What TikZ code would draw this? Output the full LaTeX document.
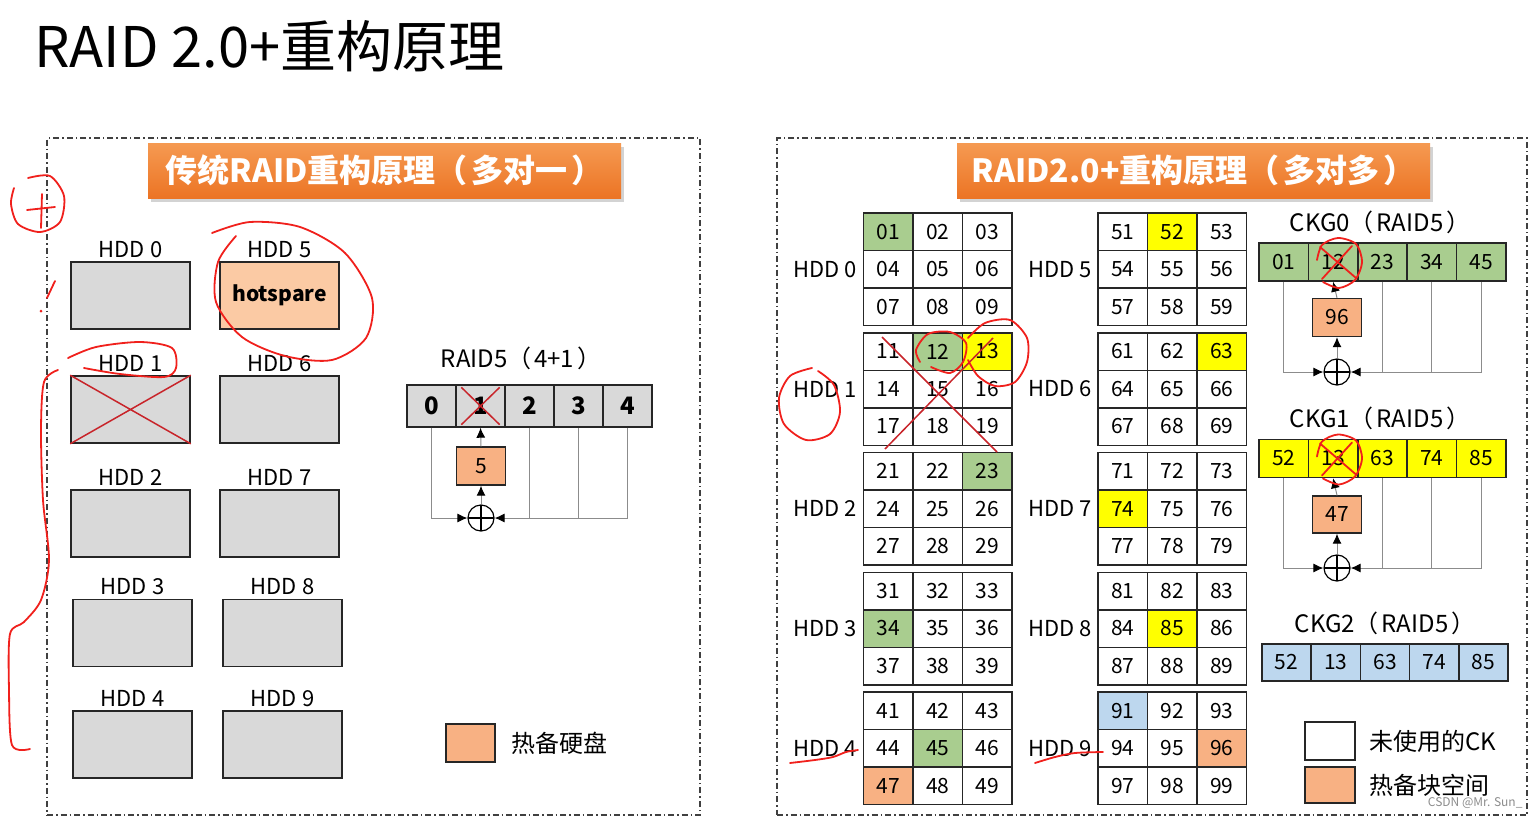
\documentclass[tikz,border=0pt]{standalone}
\usepackage{fontspec}
\setmainfont{Noto Sans CJK SC}
\usetikzlibrary{arrows.meta, positioning, shadows}

\definecolor{diskgray}{HTML}{D9D9D9}
\definecolor{sparelight}{HTML}{FBCAA4}
\definecolor{spareor}{HTML}{F8B183}
\definecolor{ckgreen}{HTML}{A9CD8F}
\definecolor{ckyellow}{HTML}{FFFF00}
\definecolor{ckblue}{HTML}{BDD7EE}
\definecolor{hdrtop}{HTML}{F59A52}
\definecolor{hdrbot}{HTML}{EC7424}
\definecolor{xred}{HTML}{C8242A}
\definecolor{penred}{HTML}{F0201C}
\definecolor{wiregray}{HTML}{8C8C8C}
\definecolor{edge}{HTML}{262626}

\newcommand{\txtsize}[1]{\fontsize{#1}{#1}\selectfont}
\newcommand{\lp}{（\hspace{0.12em}}
\newcommand{\rp}{\hspace{0.12em}）}

\begin{document}
\begin{tikzpicture}[
    x=1pt, y=-1pt,
    frame/.style={draw=black!75, line width=1.3pt, dash pattern=on 6pt off 3pt on 1.5pt off 3pt},
    header/.style={top color=hdrtop, bottom color=hdrbot, minimum width=473pt, minimum height=55pt,
        text=white, font=\txtsize{32}\bfseries, drop shadow={opacity=0.35, shadow xshift=3pt, shadow yshift=-4pt}},
    lbl/.style={font=\txtsize{22}},
    disk/.style={draw=edge, line width=1.6pt, fill=diskgray, minimum width=119pt, minimum height=67pt},
    stripcell/.style={draw=edge, line width=1.4pt, fill=diskgray, minimum width=49pt, minimum height=42pt, font=\txtsize{24}\bfseries},
    ckcell/.style={draw=edge, line width=1.5pt, fill=white, minimum width=49.5pt, minimum height=37.5pt, font=\txtsize{21}},
    sparebox/.style={draw=edge, line width=1.4pt, fill=spareor, minimum width=49pt, minimum height=38pt, font=\txtsize{21}},
    xor/.style={circle, draw=black, line width=1.2pt, minimum size=26pt, inner sep=0pt,
        path picture={\draw[line width=1.2pt] (path picture bounding box.north) -- (path picture bounding box.south)
            (path picture bounding box.west) -- (path picture bounding box.east);}},
    wire/.style={draw=wiregray, line width=1pt},
    tip/.style={-{Latex[color=black, length=10pt, width=9pt]}},
    xmark/.style={draw=xred, line width=1.5pt},
    pen/.style={draw=penred, line width=1.8pt, line cap=round, line join=round}
]
    \useasboundingbox (0,0) rectangle (1540,819);

    % Title
    \node[anchor=west, font=\txtsize{56}] (title) at (31,46) {RAID 2.0+重构原理};

    % Panels
    \node[frame, minimum width=653pt, minimum height=677pt] (leftpanel) at (373.5,476.5) {};
    \node[frame, minimum width=750pt, minimum height=677pt] (rightpanel) at (1152,476.5) {};
    \node[header] (lefthdr) at (384.5,170.5) {传统RAID重构原理\lp 多对一\rp};
    \node[header] (righthdr) at (1193.5,170.5) {RAID2.0+重构原理\lp 多对多\rp};

    % Traditional RAID: disks
    \foreach \i/\px/\py in {0/130.5/295.5, 1/130.5/409.5, 2/130.5/523.5, 3/132.5/633, 4/132.5/744.5,
                            6/279.5/409.5, 7/279.5/523.5, 8/282.5/633, 9/282.5/744.5}
        \node[disk, label={[lbl]above:HDD \i}] (hdd\i) at (\px,\py) {};
    \node[disk, fill=sparelight, font=\txtsize{21}\bfseries, label={[lbl]above:HDD 5}] (hdd5) at (279.5,295.5) {hotspare};
    \draw[xmark] (hdd1.north west) -- (hdd1.south east) (hdd1.south west) -- (hdd1.north east);

    % Traditional RAID: RAID5 (4+1)
    \node[font=\txtsize{24}] (raidlbl) at (521,358) {RAID5\lp 4+1\rp};
    \foreach \k in {0,...,4}
        \node[stripcell] (r\k) at (431.5+49*\k,406) {\k};
    \draw[xmark] ([shift={(6,3)}]r1.north west) -- ([shift={(-6,-3)}]r1.south east)
                 ([shift={(6,-3)}]r1.south west) -- ([shift={(-6,3)}]r1.north east);
    \node[sparebox] (p5) at (481,466) {5};
    \node[xor] (x0) at (481,518) {};
    \draw[wire, tip] (r0.south) |- (x0.west);
    \draw[wire] (r2.south) -- (r2.south |- x0.east);
    \draw[wire] (r3.south) -- (r3.south |- x0.east);
    \draw[wire, tip] (r4.south) |- (x0.east);
    \draw[wire, tip] (x0.north) -- (p5.south);
    \draw[wire, tip] (p5.north) -- (r1.south);

    % Legend (left)
    \node[sparebox] (legdisk) at (470.5,743) {};
    \node[font=\txtsize{24}, right=12pt of legdisk] (legdisktxt) {热备硬盘};

    % RAID 2.0+: disks split into chunks
    \foreach \g in {0,...,9} {
        \pgfmathsetmacro\gx{\g<5 ? 863.5 : 1098}
        \pgfmathtruncatemacro\gr{mod(\g,5)}
        \node[lbl, anchor=east] (hddr\g) at ({\gx-3},{213+119.75*\gr+56.25}) {HDD \g};
        \foreach \r in {0,1,2} {
            \foreach \c in {0,1,2} {
                \pgfmathtruncatemacro\n{10*\g+3*\r+\c+1}
                \ifnum\n<10 \edef\nn{0\n}\else\edef\nn{\n}\fi
                \node[ckcell] (ck\nn) at ({\gx+24.75+49.5*\c},{213+119.75*\gr+18.75+37.5*\r}) {\nn};
            }
        }
    }
    % chunks in use
    \foreach \n/\col in {01/ckgreen, 12/ckgreen, 23/ckgreen, 34/ckgreen, 45/ckgreen,
                         13/ckyellow, 52/ckyellow, 63/ckyellow, 74/ckyellow, 85/ckyellow,
                         47/spareor, 96/spareor, 91/ckblue}
        \node[ckcell, fill=\col] at (ck\n) {\n};
    \draw[xmark] (882,337) -- (997,452) (885,449) -- (993,338);

    % CKG0
    \node[font=\txtsize{24}] (ckg0lbl) at (1380,222) {CKG0\lp RAID5\rp};
    \foreach \k/\v in {0/01, 1/12, 2/23, 3/34, 4/45}
        \node[ckcell, fill=ckgreen, minimum width=49.4pt, minimum height=38pt] (a\k) at (1283.7+49.4*\k,262) {\v};
    \node[sparebox] (p96) at (1337,317.5) {96};
    \node[xor] (x1) at (1337,372) {};
    \draw[wire, tip] (a0.south) |- (x1.west);
    \draw[wire] (a2.south) -- (a2.south |- x1.east);
    \draw[wire] (a3.south) -- (a3.south |- x1.east);
    \draw[wire, tip] (a4.south) |- (x1.east);
    \draw[wire, tip] (x1.north) -- (p96.south);
    \draw[wire, tip] (p96.north) -- (a1.south);

    % CKG1
    \node[font=\txtsize{24}] (ckg1lbl) at (1380,418) {CKG1\lp RAID5\rp};
    \foreach \k/\v in {0/52, 1/13, 2/63, 3/74, 4/85}
        \node[ckcell, fill=ckyellow, minimum width=49.4pt, minimum height=38pt] (b\k) at (1283.7+49.4*\k,458.5) {\v};
    \node[sparebox, minimum height=37pt] (p47) at (1337,514.5) {47};
    \node[xor] (x2) at (1337,568) {};
    \draw[wire, tip] (b0.south) |- (x2.west);
    \draw[wire] (b2.south) -- (b2.south |- x2.east);
    \draw[wire] (b3.south) -- (b3.south |- x2.east);
    \draw[wire, tip] (b4.south) |- (x2.east);
    \draw[wire, tip] (x2.north) -- (p47.south);
    \draw[wire, tip] (p47.north) -- (b1.south);

    % CKG2
    \node[font=\txtsize{24}] (ckg2lbl) at (1385,623) {CKG2\lp RAID5\rp};
    \foreach \k/\v in {0/52, 1/13, 2/63, 3/74, 4/85}
        \node[ckcell, fill=ckblue, minimum width=49.2pt, minimum height=37pt] (c\k) at (1286.6+49.2*\k,662.5) {\v};

    % Legend (right)
    \node[ckcell, minimum width=50pt, minimum height=38pt] (legfree) at (1330,741) {};
    \node[sparebox, minimum width=50pt, minimum height=36pt] (legck) at (1330,785) {};
    \node[font=\txtsize{24}, right=10pt of legfree] (legfreetxt) {未使用的CK};
    \node[font=\txtsize{24}, right=10pt of legck] (legcktxt) {热备块空间};
    \node[font=\txtsize{12}, text=black!45, anchor=east] (mark) at (1526,803) {CSDN @Mr. Sun\_};

    % hand-drawn marks
    \draw[pen] plot[smooth] coordinates {(28,178) (50,176) (64,196) (60,222) (40,232) (18,224) (11,204) (14,188)};
    \draw[pen] (42,194) -- (41,228) (27,210) -- (55,207);
    \draw[pen] (55,281) -- (47,298);
    \fill[penred] (41,311) circle (1.5);
    \draw[pen] plot[smooth] coordinates {(58,370) (44,382) (41,430) (43,500) (49,560) (41,600) (24,622) (10,634) (9,690) (12,745) (30,749)};
    \draw[pen] plot[smooth] coordinates {(212,233) (250,222) (300,227) (345,253) (372,298) (366,338) (332,360) (285,356) (242,337) (216,302) (218,262) (236,236)};
    \draw[pen] plot[smooth] coordinates {(68,358) (96,347) (140,342) (172,348) (176,368) (164,377) (120,374) (84,368)};
    \draw[pen] plot[smooth] coordinates {(812,368) (790,376) (779,398) (784,424) (806,440) (830,434) (840,412) (834,385) (818,371)};
    \draw[pen] plot[smooth] coordinates {(931,367) (950,373) (963,362) (966,343) (950,332) (928,334) (916,350) (920,362)};
    \draw[pen] plot[smooth] coordinates {(968,338) (985,323) (1010,320) (1027,338) (1027,362) (1015,382) (995,386) (978,376) (968,360)};
    \draw[pen] plot[smooth] coordinates {(790,763) (815,760) (833,757) (846,752) (858,750)};
    \draw[pen] plot[smooth] coordinates {(1035,763) (1055,757) (1075,753) (1103,752)};
    \foreach \yy in {262,458.5} {
        \draw[pen] (1320,\yy-15) -- (1356,\yy+16) (1322,\yy+17) -- (1352,\yy-16);
        \draw[pen] plot[smooth] coordinates {(1323,\yy+20) (1339,\yy+26) (1355,\yy+18) (1362,\yy) (1356,\yy-18) (1338,\yy-24) (1322,\yy-17) (1317,\yy-2)};
    }
\end{tikzpicture}
\end{document}
